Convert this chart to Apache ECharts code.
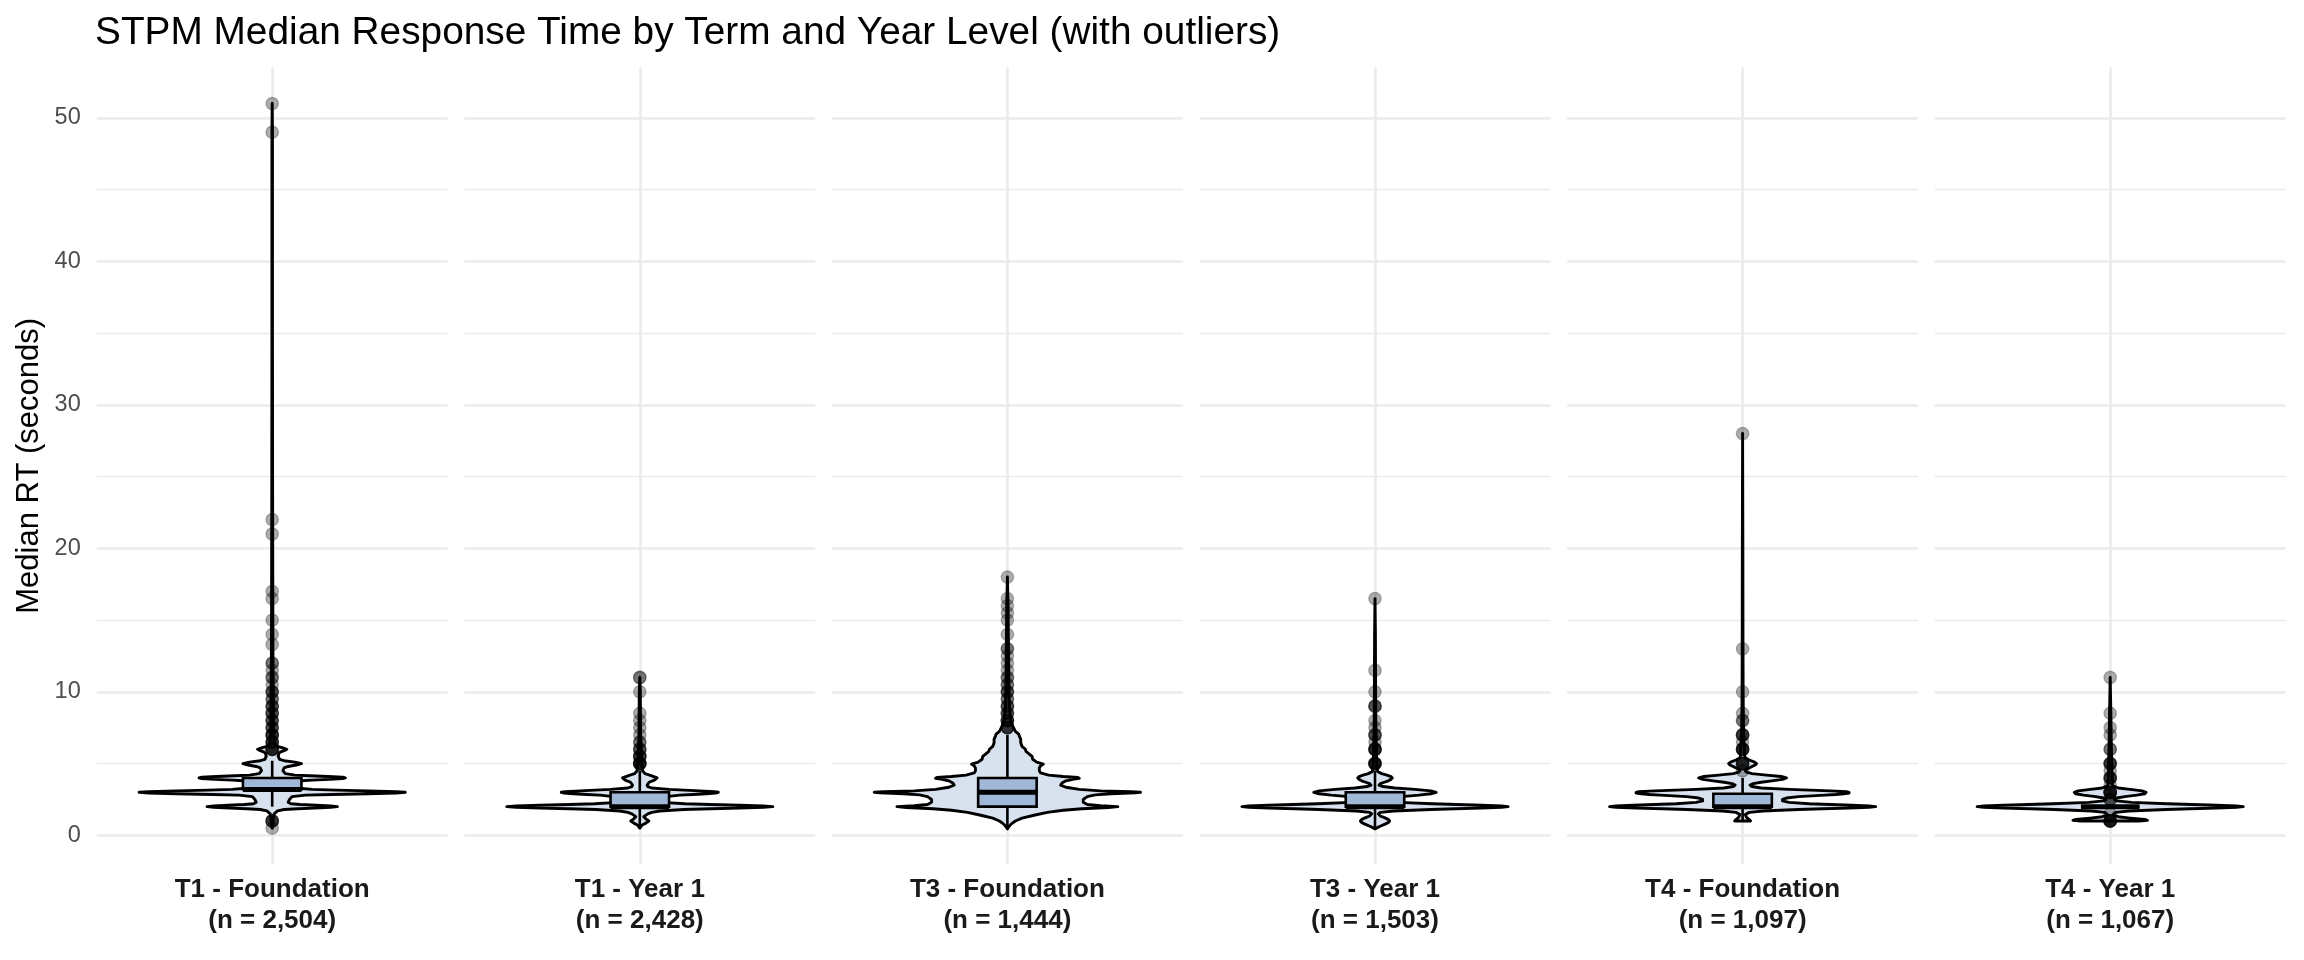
<!DOCTYPE html>
<html>
<head>
<meta charset="utf-8">
<script src="https://cdn.jsdelivr.net/npm/echarts@6/dist/echarts.min.js"></script>
<style>
html,body{margin:0;padding:0;background:#ffffff;}
#chart{width:2304px;height:960px;}
</style>
</head>
<body>
<div id="chart"></div>
<script>
// ---------------- DATA ----------------
const categories = ['T1 - Foundation', 'T1 - Year 1', 'T3 - Foundation', 'T3 - Year 1', 'T4 - Foundation', 'T4 - Year 1'];
const sampleSizes = ['2,504', '2,428', '1,444', '1,503', '1,097', '1,067'];
const yTicks = [0, 10, 20, 30, 40, 50];
const yMinorTicks = [5, 15, 25, 35, 45];

// violin profiles: [median RT (s), relative density (1 = widest violin)]
const violinT1Foundation = [
  [0.5,0],[0.7,0.004],[1.0,0.008],[1.3,0.01],[1.5,0.015],[1.7,0.04],[1.8,0.09],[1.85,0.19],[1.9,0.32],[1.95,0.44],
  [2.0,0.49],[2.05,0.44],[2.1,0.33],[2.15,0.21],[2.2,0.14],[2.3,0.12],[2.5,0.13],[2.7,0.15],[2.8,0.25],[2.85,0.45],
  [2.9,0.72],[2.95,0.93],[3.0,1.0],[3.05,0.93],[3.1,0.72],[3.15,0.48],[3.2,0.3],[3.3,0.18],[3.5,0.15],[3.7,0.17],
  [3.8,0.22],[3.85,0.3],[3.9,0.43],[3.95,0.53],[4.0,0.55],[4.05,0.53],[4.1,0.42],[4.15,0.28],[4.2,0.17],[4.3,0.1],
  [4.5,0.08],[4.7,0.09],[4.8,0.12],[4.9,0.18],[5.0,0.22],[5.1,0.17],[5.2,0.09],[5.3,0.055],[5.5,0.045],[5.7,0.05],
  [5.8,0.06],[5.9,0.09],[6.0,0.11],[6.1,0.08],[6.2,0.04],[6.4,0.02],[7,0.012],[8,0.01],[10,0.008],[12,0.006],
  [15,0.005],[20,0.004],[25,0.003],[35,0.002],[49,0.002],[51,0]
];
const violinT1Year1 = [
  [0.5,0],[0.7,0.015],[0.85,0.045],[1.0,0.068],[1.15,0.045],[1.3,0.03],[1.5,0.06],[1.6,0.09],[1.7,0.15],[1.8,0.33],
  [1.85,0.53],[1.9,0.75],[1.95,0.93],[2.0,1.0],[2.05,0.93],[2.1,0.75],[2.15,0.53],[2.2,0.34],[2.3,0.17],[2.4,0.13],
  [2.5,0.13],[2.6,0.14],[2.7,0.2],[2.8,0.3],[2.85,0.4],[2.9,0.5],[2.95,0.57],[3.0,0.59],[3.05,0.56],[3.1,0.45],
  [3.2,0.22],[3.3,0.09],[3.4,0.06],[3.5,0.055],[3.7,0.07],[3.85,0.11],[4.0,0.13],[4.15,0.09],[4.3,0.04],[4.5,0.02],
  [5,0.015],[5.5,0.012],[6,0.01],[7,0.006],[8.5,0.005],[10,0.004],[11,0]
];
const violinT3Foundation = [
  [0.45,0],[0.6,0.01],[0.8,0.03],[1.0,0.06],[1.2,0.11],[1.4,0.2],[1.6,0.3],[1.75,0.42],[1.85,0.56],[1.94,0.76],
  [2.0,0.83],[2.06,0.7],[2.15,0.6],[2.3,0.57],[2.5,0.57],[2.7,0.6],[2.82,0.66],[2.9,0.78],[2.96,0.96],[3.0,1.0],
  [3.04,0.93],[3.1,0.7],[3.2,0.54],[3.35,0.44],[3.5,0.4],[3.65,0.41],[3.8,0.44],[3.92,0.5],[3.98,0.54],[4.03,0.53],
  [4.1,0.42],[4.2,0.31],[4.35,0.25],[4.5,0.24],[4.7,0.24],[4.85,0.25],[4.97,0.27],[5.1,0.22],[5.3,0.19],[5.5,0.185],
  [5.7,0.16],[5.85,0.14],[6.0,0.135],[6.2,0.11],[6.45,0.1],[6.7,0.1],[6.9,0.09],[7.05,0.085],[7.25,0.06],[7.6,0.04],
  [8.0,0.025],[9,0.015],[10,0.011],[12,0.009],[14,0.007],[16,0.005],[18,0]
];
const violinT3Year1 = [
  [0.45,0],[0.6,0.03],[0.8,0.08],[0.9,0.1],[1.0,0.11],[1.1,0.1],[1.2,0.08],[1.35,0.04],[1.5,0.025],[1.6,0.04],
  [1.7,0.14],[1.8,0.42],[1.85,0.6],[1.9,0.8],[1.95,0.95],[2.0,1.0],[2.05,0.95],[2.1,0.8],[2.2,0.43],[2.3,0.18],
  [2.4,0.1],[2.5,0.1],[2.6,0.12],[2.7,0.2],[2.8,0.33],[2.9,0.42],[3.0,0.46],[3.1,0.42],[3.2,0.3],[3.3,0.15],
  [3.4,0.06],[3.5,0.03],[3.6,0.04],[3.7,0.07],[3.8,0.1],[3.9,0.12],[4.0,0.13],[4.1,0.12],[4.2,0.09],[4.3,0.05],
  [4.45,0.02],[4.7,0.015],[5.0,0.015],[5.5,0.012],[6,0.01],[7,0.007],[9,0.005],[11.5,0.004],[14,0.003],[16.5,0]
];
const violinT4Foundation = [
  [1.0,0.06],[1.1,0.05],[1.25,0.03],[1.45,0.02],[1.6,0.05],[1.7,0.15],[1.8,0.42],[1.85,0.6],[1.9,0.8],[1.95,0.95],
  [2.0,1.0],[2.05,0.95],[2.1,0.82],[2.2,0.5],[2.3,0.35],[2.4,0.3],[2.5,0.3],[2.6,0.33],[2.7,0.42],[2.8,0.62],
  [2.85,0.7],[2.9,0.76],[2.95,0.8],[3.0,0.8],[3.05,0.78],[3.1,0.66],[3.2,0.35],[3.3,0.14],[3.4,0.07],[3.5,0.056],
  [3.6,0.08],[3.7,0.14],[3.8,0.22],[3.9,0.3],[4.0,0.33],[4.1,0.29],[4.2,0.18],[4.3,0.07],[4.4,0.03],[4.5,0.02],
  [4.6,0.03],[4.75,0.06],[4.9,0.095],[5.0,0.105],[5.1,0.09],[5.25,0.05],[5.4,0.02],[5.6,0.015],[6.0,0.015],[6.5,0.01],
  [7,0.008],[8,0.006],[10,0.004],[13,0.003],[20,0.002],[28,0]
];
const violinT4Year1 = [
  [1.0,0.22],[1.05,0.28],[1.1,0.26],[1.2,0.15],[1.3,0.06],[1.45,0.02],[1.6,0.04],[1.7,0.14],[1.8,0.42],[1.85,0.6],
  [1.9,0.8],[1.95,0.95],[2.0,1.0],[2.05,0.95],[2.1,0.8],[2.2,0.43],[2.3,0.16],[2.4,0.05],[2.5,0.03],[2.6,0.05],
  [2.7,0.11],[2.8,0.2],[2.9,0.26],[3.0,0.27],[3.1,0.24],[3.2,0.15],[3.3,0.06],[3.45,0.02],[3.7,0.015],[4,0.015],
  [4.5,0.012],[5,0.012],[6,0.009],[7,0.007],[8.5,0.005],[11,0]
];

// box stats: [lower whisker, Q1, median, Q3, upper whisker]
const boxT1Foundation = [2.0, 3.2, 3.2, 4.0, 5.2];
const boxT1Year1      = [0.5, 2.0, 2.0, 3.0, 4.5];
const boxT3Foundation = [0.5, 2.0, 3.0, 4.0, 7.0];
const boxT3Year1      = [0.5, 2.0, 2.0, 3.0, 4.5];
const boxT4Foundation = [1.0, 2.0, 2.0, 2.9, 4.0];
const boxT4Year1      = [2.0, 2.0, 2.0, 2.0, 2.0];

// outliers (seconds)
const outliersT1Foundation = [51, 49, 22, 21, 17, 16.5, 15, 14, 13.3, 12, 12, 11.5, 11, 11, 10.5, 10, 10, 10, 9.5, 9.5,
  9, 9, 9, 8.5, 8.5, 8.5, 8, 8, 8, 7.5, 7.5, 7.5, 7, 7, 7, 7, 6.5, 6.5, 6.5, 6.5, 6, 6, 6, 6, 6, 1, 1, 1, 1, 0.5];
const outliersT1Year1 = [11, 11, 10, 8.5, 8, 7.5, 7, 6.5, 6.5, 6, 6, 6, 5.5, 5.5, 5.5, 5.5, 5, 5, 5, 5, 5, 5];
const outliersT3Foundation = [18, 16.5, 16, 15.5, 15, 14, 13, 13, 12.5, 12, 11.5, 11, 11, 10.5, 10.5, 10, 10, 10, 9.5, 9.5,
  9, 9, 9, 8.5, 8.5, 8.5, 8, 8, 8, 8, 7.5, 7.5, 7.5, 7.5];
const outliersT3Year1 = [16.5, 11.5, 10, 9, 9, 9, 8, 7.5, 7, 7, 7, 6.5, 6, 6, 6, 6, 6, 5, 5, 5, 5, 5, 5];
const outliersT4Foundation = [28, 13, 10, 8.5, 8, 8, 7, 7, 7, 7, 6.5, 6, 6, 6, 6, 6, 5, 5, 5, 5, 5, 4.5];
const outliersT4Year1 = [11, 8.5, 7.5, 7, 6, 6, 5, 5, 5, 5, 4.5, 4, 4, 4, 4, 3.5, 3, 3, 3, 3, 3, 3, 2.5, 2.5, 2.5,
  1.5, 1, 1, 1, 1, 1, 1];

const violins = [violinT1Foundation, violinT1Year1, violinT3Foundation, violinT3Year1, violinT4Foundation, violinT4Year1];
const boxes = [boxT1Foundation, boxT1Year1, boxT3Foundation, boxT3Year1, boxT4Foundation, boxT4Year1];
const outliers = [outliersT1Foundation, outliersT1Year1, outliersT3Foundation, outliersT3Year1, outliersT4Foundation, outliersT4Year1];

// ---------------- LAYOUT / STYLE ----------------
const FONT = '"Liberation Sans", Arial, Helvetica, sans-serif';
const PANEL_LEFT = 96.7, PANEL_PITCH = 367.6, PANEL_W = 351, PANEL_TOP = 67.3, PANEL_H = 797.1;
const Y_MIN = -2.025, Y_MAX = 53.525;
const X_MIN = 0.4, X_MAX = 1.6, X_CENTER = 1;
const HALF_MAX = 0.455;   // half-width of widest violin (x units)
const BOX_HALF = 0.1;     // half box width (x units)
const GRID_COLOR = '#ebebeb';

const chart = echarts.init(document.getElementById('chart'), null, {renderer: 'canvas'});

const grids = [], xAxes = [], yAxes = [], series = [];

categories.forEach((cat, i) => {
  grids.push({left: PANEL_LEFT + i * PANEL_PITCH, top: PANEL_TOP, width: PANEL_W, height: PANEL_H});

  xAxes.push({
    type: 'value', gridIndex: i, min: X_MIN, max: X_MAX,
    axisLine: {show: false},
    axisTick: {show: false, customValues: [X_CENTER]},
    splitLine: {show: true, lineStyle: {color: GRID_COLOR, width: 2.6}},
    axisLabel: {
      customValues: [X_CENTER],
      margin: 10,
      formatter: () => '{a|' + cat + '}\n{a|(n = ' + sampleSizes[i] + ')}',
      rich: {a: {fontSize: 26, fontWeight: 'bold', color: '#1a1a1a', lineHeight: 31, fontFamily: FONT, align: 'center'}}
    }
  });

  yAxes.push({
    type: 'value', gridIndex: i, min: Y_MIN, max: Y_MAX,
    axisLine: {show: false},
    axisTick: {show: false, customValues: yTicks},
    axisLabel: {show: i === 0, customValues: yTicks, fontSize: 23.5, color: '#4d4d4d', margin: 16, fontFamily: FONT},
    splitLine: {show: true, lineStyle: {color: GRID_COLOR, width: 2.6}},
    name: i === 0 ? 'Median RT (seconds)' : '',
    nameLocation: 'middle', nameRotate: 90, nameGap: 52,
    nameTextStyle: {fontSize: 31, color: '#000000', fontFamily: FONT}
  });
  yAxes.push({
    type: 'value', gridIndex: i, min: Y_MIN, max: Y_MAX,
    axisLine: {show: false},
    axisTick: {show: false, customValues: yMinorTicks},
    axisLabel: {show: false},
    splitLine: {show: true, lineStyle: {color: GRID_COLOR, width: 1.4}}
  });

  // violin
  series.push({
    type: 'custom', xAxisIndex: i, yAxisIndex: 2 * i, z: 2, silent: true,
    data: [[X_CENTER, violins[i][0][0]]],
    renderItem: (params, api) => {
      const prof = violins[i];
      const leftSide = prof.map(p => api.coord([X_CENTER - HALF_MAX * p[1], p[0]]));
      const rightSide = prof.slice().reverse().map(p => api.coord([X_CENTER + HALF_MAX * p[1], p[0]]));
      return {
        type: 'polygon',
        shape: {points: leftSide.concat(rightSide)},
        style: {fill: '#d8e2ef', stroke: '#000000', lineWidth: 2.9, lineJoin: 'round'}
      };
    }
  });

  // box plot
  series.push({
    type: 'custom', xAxisIndex: i, yAxisIndex: 2 * i, z: 3, silent: true,
    data: [[X_CENTER, boxes[i][2]]],
    renderItem: (params, api) => {
      const [wLo, q1, med, q3, wHi] = boxes[i];
      const c = v => api.coord([X_CENTER, v]);
      const l = v => api.coord([X_CENTER - BOX_HALF, v]);
      const r = v => api.coord([X_CENTER + BOX_HALF, v]);
      const lineStyle = {stroke: '#000000', lineWidth: 2.6};
      return {
        type: 'group',
        children: [
          {type: 'line', shape: {x1: c(q3)[0], y1: c(q3)[1], x2: c(wHi)[0], y2: c(wHi)[1]}, style: lineStyle},
          {type: 'line', shape: {x1: c(q1)[0], y1: c(q1)[1], x2: c(wLo)[0], y2: c(wLo)[1]}, style: lineStyle},
          {type: 'polygon', shape: {points: [l(q1), r(q1), r(q3), l(q3)]},
           style: {fill: '#a0b7d7', stroke: '#000000', lineWidth: 2.6, lineJoin: 'miter'}},
          {type: 'line', shape: {x1: l(med)[0], y1: l(med)[1], x2: r(med)[0], y2: r(med)[1]},
           style: {stroke: '#000000', lineWidth: 5}}
        ]
      };
    }
  });

  // outliers
  series.push({
    type: 'scatter', xAxisIndex: i, yAxisIndex: 2 * i, z: 4, silent: true,
    symbol: 'circle', symbolSize: 12.5,
    itemStyle: {color: 'rgba(0,0,0,0.4)', borderColor: 'rgba(0,0,0,0.32)', borderWidth: 1.3},
    data: outliers[i].map(v => [X_CENTER, v])
  });
});

chart.setOption({
  animation: false,
  backgroundColor: '#ffffff',
  title: {
    text: 'STPM Median Response Time by Term and Year Level (with outliers)',
    left: 95, top: 14, padding: 0,
    textStyle: {fontSize: 38.8, fontWeight: 'normal', color: '#000000', fontFamily: FONT}
  },
  grid: grids,
  xAxis: xAxes,
  yAxis: yAxes,
  series: series
});
</script>
</body>
</html>
